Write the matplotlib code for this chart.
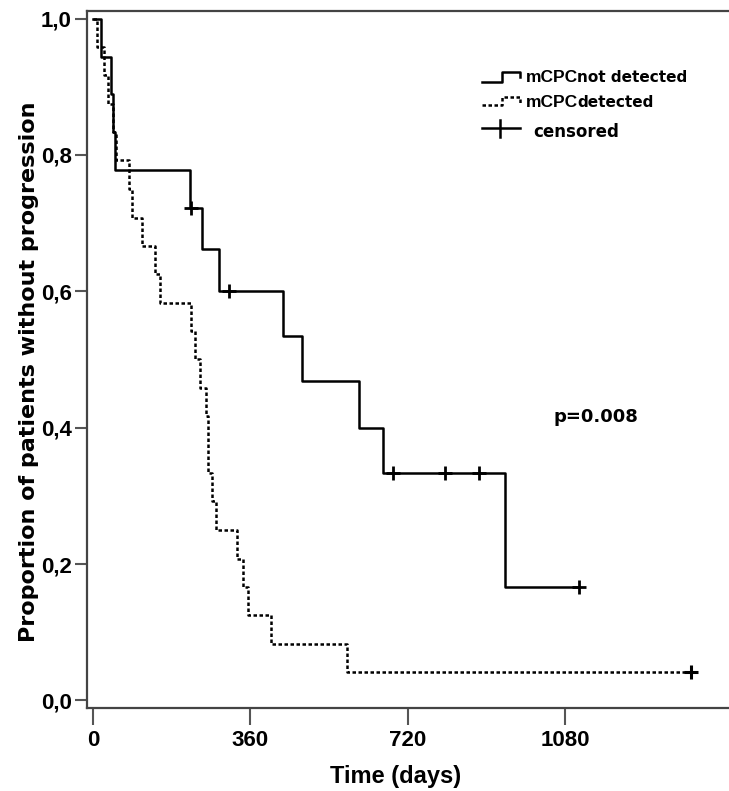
import matplotlib
matplotlib.use("Agg")
import matplotlib.pyplot as plt

# Kaplan-Meier steps
not_det_days = [0, 18, 42, 45, 50, 222, 250, 289, 434, 479, 608, 663, 942, 1112]
not_det_surv = [1.0, 0.944, 0.889, 0.833, 0.778, 0.722, 0.662, 0.601, 0.535,
                0.468, 0.400, 0.333, 0.167, 0.167]
not_det_cens_days = [224, 310, 686, 805, 883, 1112]
not_det_cens_surv = [0.722, 0.601, 0.333, 0.333, 0.333, 0.167]

det_days = [0, 8, 25, 35, 45, 53, 83, 88, 112, 142, 153, 225, 234, 245, 259,
            262, 264, 273, 282, 330, 344, 355, 406, 582, 1369]
det_surv = [1.0, 0.958, 0.917, 0.875, 0.833, 0.792, 0.750, 0.708, 0.667, 0.625,
            0.583, 0.542, 0.500, 0.458, 0.417, 0.375, 0.333, 0.292, 0.250,
            0.208, 0.167, 0.125, 0.083, 0.042, 0.042]
det_cens_days = [1369]
det_cens_surv = [0.042]

x_ticks = [0, 360, 720, 1080]
y_ticks = [0.0, 0.2, 0.4, 0.6, 0.8, 1.0]
y_ticklabels = ["0,0", "0,2", "0,4", "0,6", "0,8", "1,0"]

W, H = 729, 791
fig = plt.figure(figsize=(W / 100, H / 100), dpi=100)
ax = fig.add_axes([87 / W, 1 - 708 / H, 1 - 87 / W, (708 - 11) / H])

arial = ["Liberation Sans", "DejaVu Sans"]
wide = ["DejaVu Sans"]
dots = (0, (1.4, 1.0))

ax.step(not_det_days, not_det_surv, where="post", color="black", lw=1.8)
ax.plot(not_det_cens_days, not_det_cens_surv, ls="none", marker="+",
        ms=10, mew=2, color="black")
ax.step(det_days, det_surv, where="post", color="black", lw=1.8, ls=dots)
ax.plot(det_cens_days, det_cens_surv, ls="none", marker="+",
        ms=10, mew=2.2, color="black")

ax.set_xlim(-14, 1455)
ax.set_ylim(-0.011, 1.011)
ax.set_xticks(x_ticks)
ax.set_xticklabels([str(t) for t in x_ticks], family=arial,
                   fontweight="bold", fontsize=16)
ax.set_yticks(y_ticks)
ax.set_yticklabels(y_ticklabels, family=arial, fontweight="bold", fontsize=16)
ax.tick_params(axis="y", length=9, width=1.5, color="#555555", pad=2)
ax.tick_params(axis="x", length=12, width=1.5, color="#555555", pad=4)

for side in ["left", "top", "bottom"]:
    ax.spines[side].set_color("#444444")
    ax.spines[side].set_linewidth(1.6)
ax.spines["right"].set_visible(False)

ax.set_ylabel("Proportion of patients without progression", family=wide,
              fontweight="bold", fontsize=16)
ax.yaxis.label.set_verticalalignment("center")
ax.yaxis.set_label_coords(-0.09, 0.482)
ax.set_xlabel("Time (days)", family=arial, fontweight="bold", fontsize=17)
ax.xaxis.label.set_verticalalignment("center")
ax.xaxis.set_label_coords(0.481, -0.0976)

ax.text(0.727, 0.4175, "p=0.008", transform=ax.transAxes, family=wide,
        fontweight="bold", fontsize=13, va="center", ha="left")


# hand-built legend, laid out in pixel positions of the reference
def px(x, y):
    return (x - 87) / (729 - 87), (708 - y) / (708 - 11)


def handle(xs, ys, **kw):
    pts = [px(x, y) for x, y in zip(xs, ys)]
    ax.plot([p[0] for p in pts], [p[1] for p in pts], transform=ax.transAxes,
            color="black", clip_on=False, **kw)


handle([482, 502, 502, 520, 520], [82, 82, 72, 72, 77], lw=1.8)
handle([482, 502, 502, 520, 520], [105, 105, 97, 97, 104], lw=1.8, ls=dots)
handle([482, 520], [128, 128], lw=1.8)
handle([500, 500], [120, 137], lw=1.8)

rows = [("mCPC", "not detected", 82), ("mCPC", "detected", 107)]
for big, small, base in rows:
    ax.text(*px(526, base), big, transform=ax.transAxes, family=arial,
            fontweight="bold", fontsize=12.5, va="baseline")
    ax.text(*px(577, base), small, transform=ax.transAxes, family=wide,
            fontweight="bold", fontsize=11, va="baseline")
ax.text(*px(533, 137), "censored", transform=ax.transAxes, family=wide,
        fontweight="bold", fontsize=12, va="baseline")

fig.savefig("out.png", dpi=100, facecolor="white")
